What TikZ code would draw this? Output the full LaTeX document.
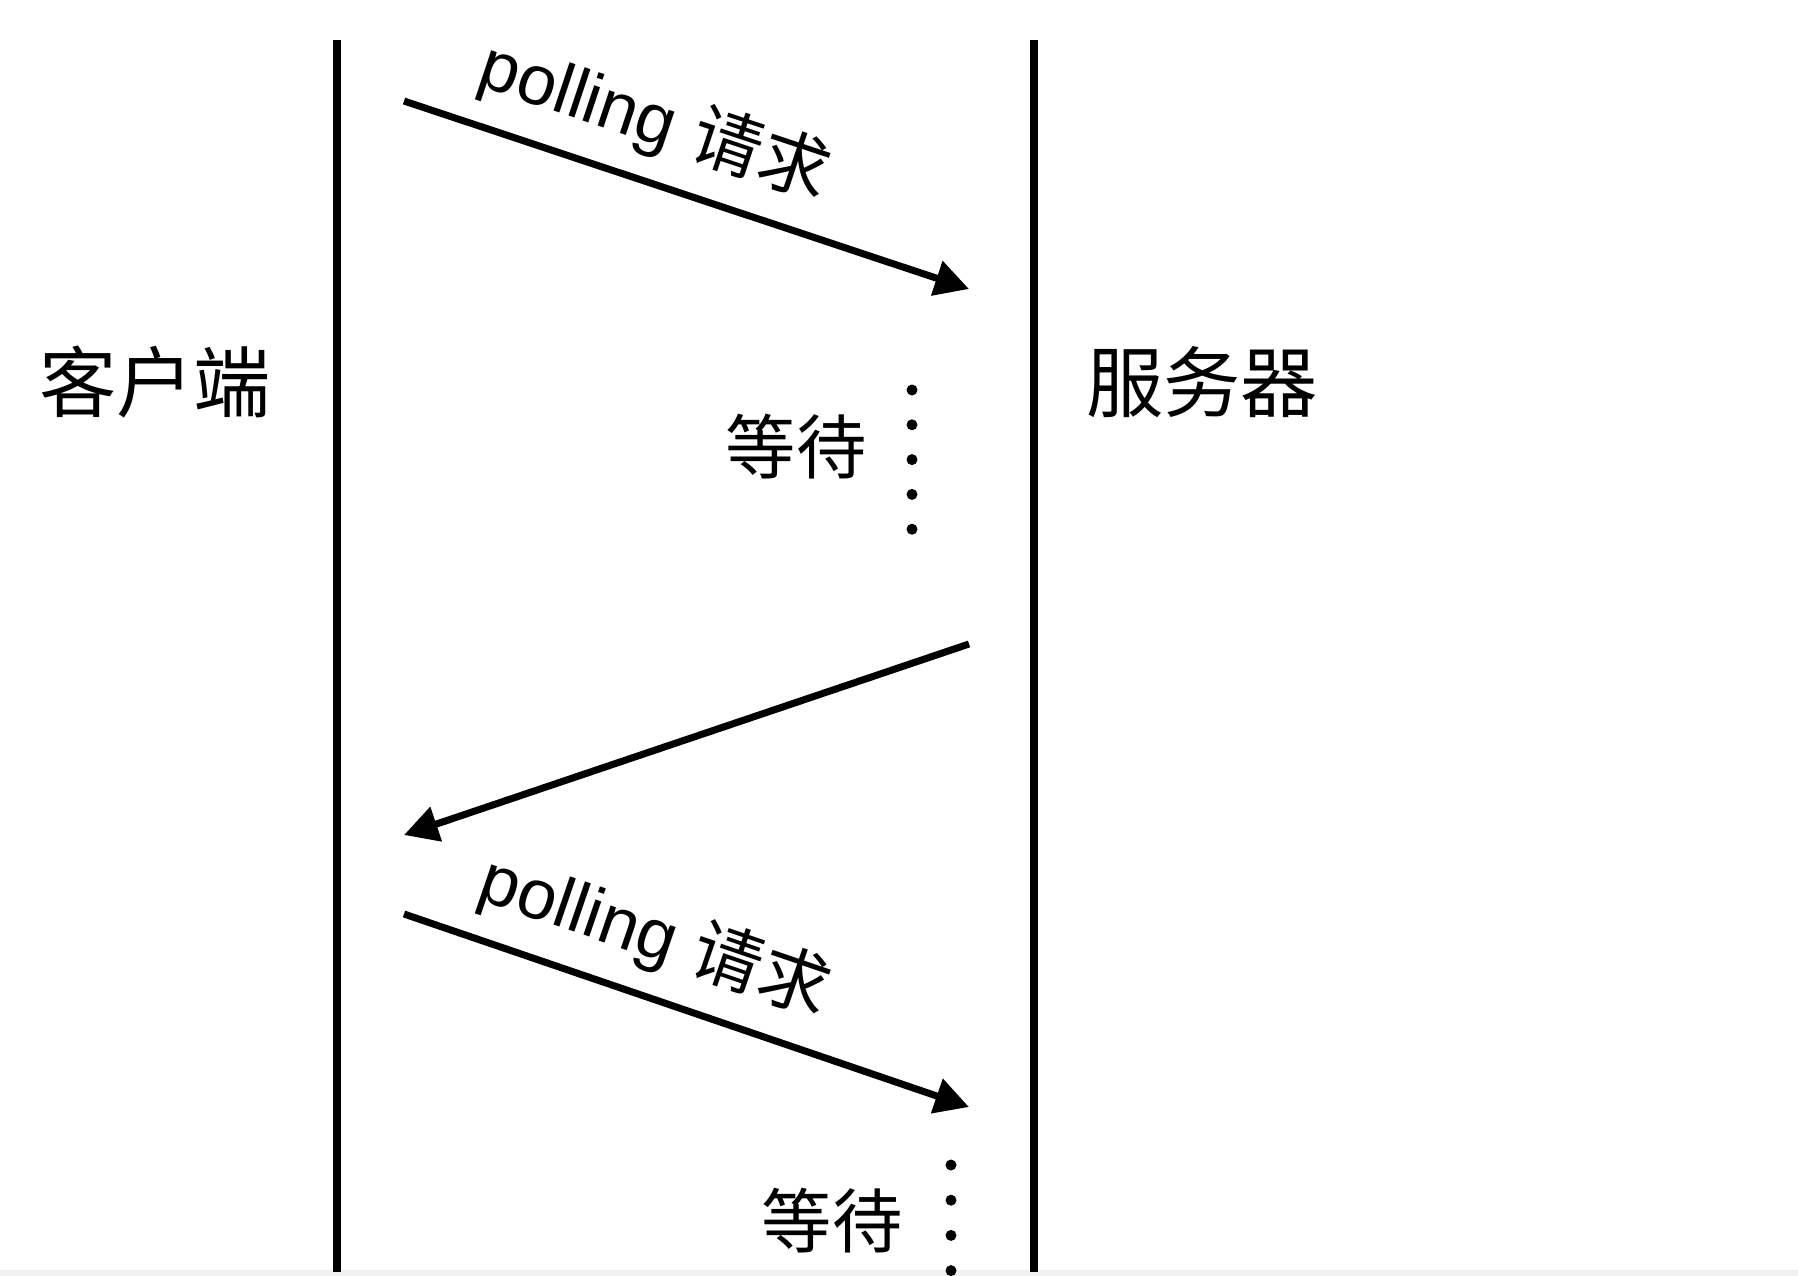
\documentclass[tikz,border=0pt]{standalone}
\usepackage{fontspec}
\setmainfont{Liberation Sans}
\newfontfamily\cjk{Noto Sans CJK SC}
\usetikzlibrary{arrows.meta,calc}

\begin{document}
\begin{tikzpicture}[>={Triangle[length=0.34cm,width=0.35cm]},line width=2pt,
                    side/.style={font=\cjk\fontsize{22pt}{24pt}\selectfont,inner sep=0pt},
                    msg/.style={font=\fontsize{20pt}{22pt}\selectfont,inner sep=0pt},
                    wait/.style={font=\cjk\fontsize{20pt}{22pt}\selectfont,inner sep=0pt,anchor=east}]
  \useasboundingbox (0,0) rectangle (17.98,-12.76);
  \fill[black!6] (0,-12.70) rectangle (17.98,-12.76);

  % lifelines
  \coordinate (ctop) at (3.37,-0.40);
  \coordinate (cbot) at (3.37,-12.72);
  \coordinate (stop) at (10.34,-0.40);
  \coordinate (sbot) at (10.34,-12.72);
  \draw (ctop) -- (cbot);
  \draw (stop) -- (sbot);

  \node[side] (client) at (1.55,-3.82) {客户端};
  \node[side] (server) at (12.02,-3.82) {服务器};

  % messages
  \coordinate (a1) at (4.04,-1.01);
  \coordinate (b1) at (9.69,-2.89);
  \coordinate (a2) at (9.69,-6.44);
  \coordinate (b2) at (4.04,-8.35);
  \coordinate (a3) at (4.04,-9.14);
  \coordinate (b3) at (9.69,-11.07);

  \draw[->] (a1) -- (b1);
  \draw[->] (a2) -- (b2);
  \draw[->] (a3) -- (b3);

  \node[msg,rotate=-18.4] (req1) at ($($(a1)!0.41!(b1)$)!0.6cm!90:(b1)$) {polling {\cjk 请求}};
  \node[msg,rotate=-18.9] (req2) at ($($(a3)!0.41!(b3)$)!0.6cm!90:(b3)$) {polling {\cjk 请求}};

  % waiting
  \node[wait] (wait1) at (8.70,-4.47) {等待};
  \node[wait] (wait2) at (9.06,-12.21) {等待};
  \foreach \i in {0,...,4}
    \fill (9.12,-3.90-0.348*\i) circle (0.055);
  \foreach \i in {0,...,3}
    \fill (9.51,-11.65-0.352*\i) circle (0.055);
\end{tikzpicture}
\end{document}
